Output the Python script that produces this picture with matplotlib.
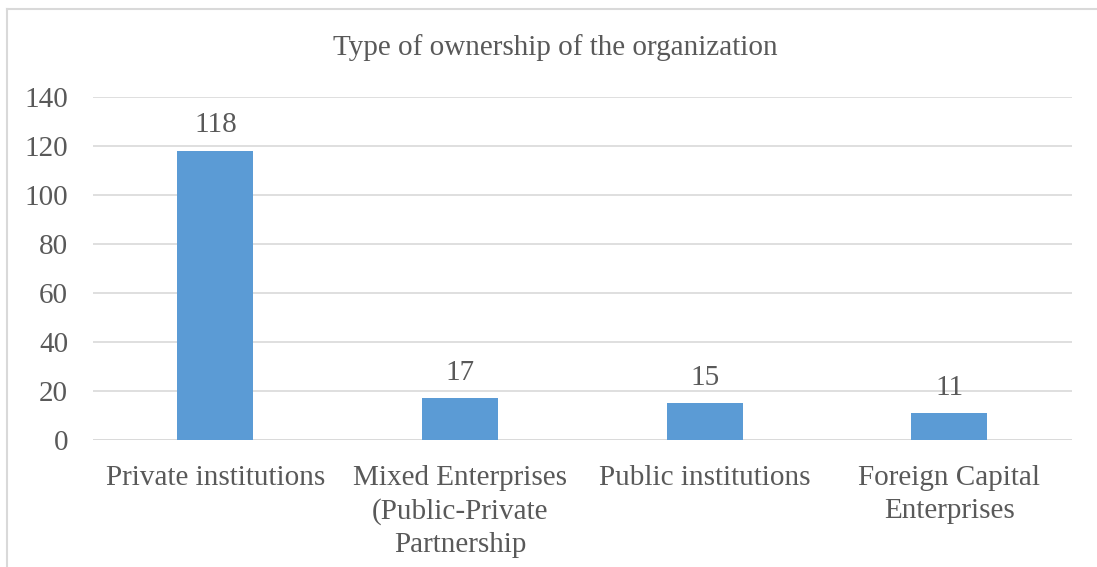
import matplotlib.pyplot as plt

categories = ['Private institutions', 'Mixed Enterprises\n(Public-Private\nPartnership',
              'Public institutions', 'Foreign Capital\nEnterprises']
values = [118, 17, 15, 11]
title = 'Type of ownership of the organization'

plt.rcParams['font.family'] = ['Liberation Serif', 'DejaVu Serif']
txt = '#595959'
fs = 21

fig = plt.figure(figsize=(10.97, 5.67), dpi=100)
ax = fig.add_axes([0.0848, 0.224, 0.8922, 0.605])

x = range(len(categories))
ax.bar(x, values, width=0.31, color='#5B9BD5', zorder=3)
for i, v in zip(x, values):
    ax.annotate(str(v), (i, v), xytext=(0, 9), textcoords='offset points',
                ha='center', va='bottom', fontsize=fs, color=txt)

ax.set_xlim(-0.5, len(categories) - 0.5)
ax.set_ylim(0, 140)
ax.set_yticks(range(0, 141, 20))
ax.grid(axis='y', color='#D9D9D9', linewidth=1.2, zorder=0)
ax.set_xticks(list(x))
ax.set_xticklabels(categories, fontsize=fs, color=txt, linespacing=1.34, va='top')
ax.tick_params(axis='y', labelsize=fs, labelcolor=txt, length=0, pad=18)
ax.tick_params(axis='x', length=0, pad=18)
for s in ax.spines.values():
    s.set_visible(False)
ax.axhline(0, color='#D9D9D9', linewidth=1.2, zorder=2)

fig.text(0.506, 0.917, title, ha='center', va='center', fontsize=fs, color=txt)

# chart frame (left and top edges only visible)
fig.add_artist(plt.Line2D([0.0068, 0.0068], [0.0, 0.984], transform=fig.transFigure,
                          color='#D9D9D9', linewidth=1.5))
fig.add_artist(plt.Line2D([0.0068, 1.0], [0.984, 0.984], transform=fig.transFigure,
                          color='#D9D9D9', linewidth=1.5))

fig.savefig('out.png', dpi=100)
